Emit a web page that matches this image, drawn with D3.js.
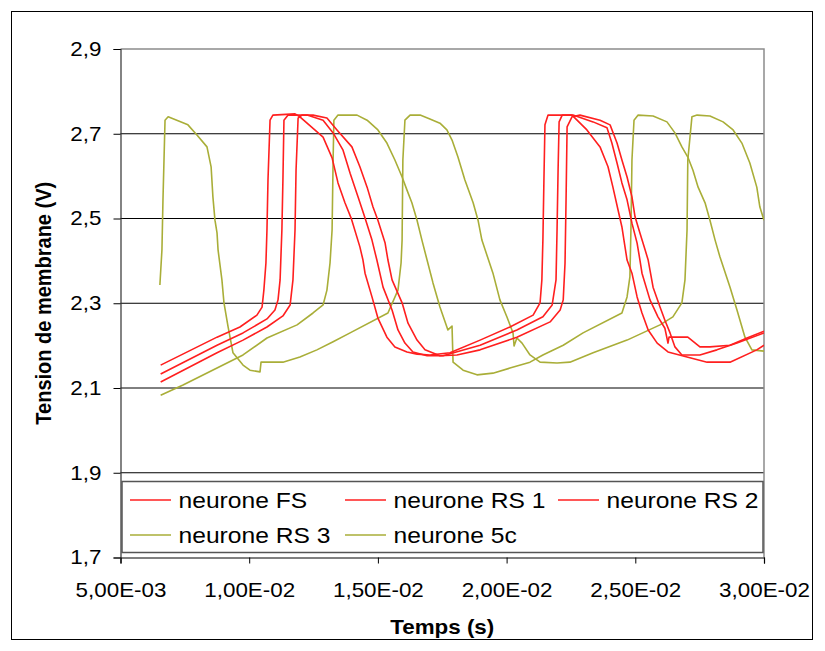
<!DOCTYPE html>
<html>
<head>
<meta charset="utf-8">
<script src="https://cdn.jsdelivr.net/npm/d3@7"></script>
<style>
  body { margin: 0; background: #fff; }
  text { font-family: Arial, "Liberation Sans", sans-serif; fill: #000; }
</style>
</head>
<body>
<svg id="chart" width="825" height="651"></svg>
<script>
// temps en ms, tension en V
const neuroneFS = [[6.56,2.154],[8.75,2.220],[9.64,2.244],[10.30,2.272],[10.50,2.291],[10.57,2.331],[10.65,2.395],[10.69,2.473],[10.73,2.591],[10.81,2.732],[10.92,2.744],[11.78,2.747],[11.97,2.740],[12.87,2.692],[13.22,2.643],[13.45,2.584],[13.72,2.537],[13.96,2.501],[14.30,2.433],[14.42,2.402],[14.50,2.371],[14.77,2.315],[15.00,2.265],[15.35,2.220],[15.66,2.197],[16.13,2.185],[16.52,2.180],[17.02,2.178],[17.80,2.183],[18.97,2.213],[20.13,2.244],[21.03,2.272],[21.30,2.301],[21.37,2.355],[21.41,2.449],[21.45,2.591],[21.49,2.721],[21.61,2.744],[22.54,2.744],[23.12,2.709],[23.63,2.669],[23.94,2.622],[24.13,2.574],[24.33,2.520],[24.48,2.480],[24.60,2.433],[24.68,2.402],[24.87,2.371],[25.07,2.315],[25.26,2.277],[25.50,2.237],[25.85,2.206],[26.27,2.185],[27.01,2.173],[27.79,2.161],[28.68,2.161],[29.72,2.190],[30.00,2.201]];
const neuroneRS1 = [[6.56,2.133],[8.75,2.201],[9.76,2.230],[10.69,2.263],[11.00,2.284],[11.12,2.308],[11.20,2.355],[11.27,2.473],[11.31,2.591],[11.35,2.732],[11.51,2.744],[12.25,2.744],[12.87,2.732],[13.26,2.702],[13.64,2.662],[13.92,2.607],[14.23,2.551],[14.50,2.501],[14.77,2.449],[14.96,2.402],[15.20,2.338],[15.55,2.284],[15.78,2.237],[16.05,2.206],[16.36,2.185],[16.91,2.176],[17.53,2.176],[18.97,2.201],[20.40,2.237],[21.41,2.268],[21.77,2.296],[21.92,2.355],[21.96,2.473],[22.00,2.614],[22.04,2.728],[22.16,2.744],[22.58,2.744],[23.36,2.728],[23.90,2.714],[24.09,2.678],[24.29,2.631],[24.48,2.584],[24.68,2.544],[24.87,2.489],[25.07,2.442],[25.18,2.402],[25.26,2.371],[25.57,2.308],[25.88,2.268],[26.15,2.241],[26.27,2.206],[26.31,2.220],[27.04,2.220],[27.51,2.197],[27.90,2.197],[28.68,2.201],[29.34,2.218],[30.00,2.234]];
const neuroneRS2 = [[6.56,2.114],[8.75,2.183],[9.76,2.213],[10.69,2.244],[11.31,2.270],[11.59,2.296],[11.70,2.355],[11.78,2.473],[11.82,2.614],[11.90,2.737],[12.05,2.744],[12.48,2.744],[13.02,2.737],[13.41,2.709],[13.99,2.669],[14.30,2.622],[14.58,2.574],[14.81,2.527],[15.00,2.496],[15.28,2.442],[15.39,2.402],[15.55,2.355],[15.94,2.301],[16.17,2.253],[16.52,2.213],[16.83,2.190],[17.41,2.176],[18.07,2.178],[18.97,2.190],[20.40,2.220],[21.69,2.256],[22.08,2.284],[22.20,2.308],[22.27,2.395],[22.31,2.544],[22.35,2.716],[22.54,2.740],[22.85,2.744],[23.63,2.732],[24.02,2.721],[24.29,2.678],[24.48,2.638],[24.68,2.598],[24.87,2.551],[24.99,2.504],[25.18,2.466],[25.38,2.426],[25.50,2.402],[25.69,2.338],[25.96,2.291],[26.15,2.260],[26.35,2.230],[26.54,2.197],[26.81,2.178],[27.51,2.178],[28.17,2.190],[28.95,2.206],[30.00,2.230]];
const neuroneRS3 = [[6.53,2.343],[6.61,2.426],[6.65,2.544],[6.73,2.732],[6.85,2.740],[7.62,2.721],[7.97,2.697],[8.36,2.669],[8.52,2.622],[8.59,2.551],[8.67,2.496],[8.75,2.466],[8.79,2.426],[8.94,2.355],[9.02,2.301],[9.18,2.244],[9.37,2.183],[9.76,2.154],[10.03,2.142],[10.42,2.138],[10.46,2.161],[11.31,2.161],[11.97,2.173],[12.63,2.190],[13.26,2.209],[13.92,2.230],[15.39,2.277],[15.78,2.331],[15.90,2.395],[15.94,2.449],[15.97,2.638],[16.05,2.732],[16.25,2.744],[16.64,2.744],[17.02,2.735],[17.41,2.725],[17.68,2.709],[17.88,2.685],[18.11,2.645],[18.38,2.591],[18.70,2.537],[18.89,2.496],[19.04,2.449],[19.47,2.371],[19.74,2.308],[20.01,2.268],[20.25,2.230],[20.29,2.199],[20.40,2.218],[20.60,2.206],[20.91,2.178],[21.30,2.161],[21.96,2.159],[22.46,2.161],[23.36,2.183],[24.68,2.213],[25.96,2.249],[26.46,2.268],[26.81,2.301],[26.93,2.355],[27.01,2.473],[27.04,2.638],[27.20,2.740],[27.40,2.744],[27.90,2.742],[28.41,2.728],[28.80,2.709],[29.14,2.678],[29.45,2.631],[29.72,2.574],[29.84,2.527],[30.00,2.496]];
const neurone5c = [[6.56,2.083],[7.43,2.107],[8.75,2.147],[9.76,2.178],[10.69,2.218],[11.86,2.249],[12.48,2.277],[12.87,2.296],[13.02,2.331],[13.14,2.395],[13.22,2.473],[13.26,2.638],[13.29,2.732],[13.45,2.744],[14.19,2.744],[14.58,2.732],[15.00,2.709],[15.35,2.678],[15.66,2.638],[15.94,2.598],[16.13,2.567],[16.32,2.537],[16.52,2.496],[16.71,2.449],[16.91,2.402],[17.14,2.348],[17.41,2.291],[17.72,2.237],[17.88,2.246],[17.92,2.161],[18.31,2.142],[18.85,2.131],[19.47,2.135],[20.13,2.147],[20.91,2.161],[21.41,2.178],[22.20,2.201],[22.97,2.230],[24.48,2.277],[24.68,2.315],[24.79,2.362],[24.83,2.473],[24.87,2.638],[24.95,2.732],[25.11,2.744],[25.69,2.742],[26.23,2.728],[26.54,2.702],[26.81,2.669],[27.04,2.645],[27.24,2.614],[27.44,2.574],[27.71,2.537],[27.90,2.496],[28.10,2.449],[28.29,2.409],[28.68,2.338],[28.95,2.284],[29.26,2.220],[29.53,2.190],[30.00,2.187]];

const seriesNames = ['neurone FS', 'neurone RS 1', 'neurone RS 2', 'neurone RS 3', 'neurone 5c'];
const seriesData = [neuroneFS, neuroneRS1, neuroneRS2, neuroneRS3, neurone5c];

const xTicks = [5e-3, 1e-2, 1.5e-2, 2e-2, 2.5e-2, 3e-2];
const xTickLabels = ['5,00E-03', '1,00E-02', '1,50E-02', '2,00E-02', '2,50E-02', '3,00E-02'];
const yTicks = [1.7, 1.9, 2.1, 2.3, 2.5, 2.7, 2.9];
const yTickLabels = ['1,7', '1,9', '2,1', '2,3', '2,5', '2,7', '2,9'];

var red = '#ff1f1f', olive = '#a9ae38';
var colors = [red, red, red, olive, olive];
var stretch = 1.12; // le graphe d'origine est un peu etire en largeur

var svg = d3.select('#chart');
var margin = {top: 49, left: 120.5};
var w = 643.5, h = 508.5;

// cadre exterieur
svg.append('rect')
  .attr('x', 11.5).attr('y', 11.5)
  .attr('width', 801).attr('height', 628)
  .attr('fill', 'none').attr('stroke', '#000');

var xScale = d3.scaleLinear().domain([5e-3, 3e-2]).range([0, w]);
var yScale = d3.scaleLinear().domain([1.7, 2.9]).range([h, 0]);

var g = svg.append('g')
  .attr('transform', 'translate(' + margin.left + ',' + margin.top + ')');

// lignes de grille
g.selectAll('.grid')
  .data(yTicks.slice(1, -1))
  .enter().append('line')
  .attr('x1', 0).attr('x2', w)
  .attr('y1', d => yScale(d)).attr('y2', d => yScale(d))
  .attr('stroke', '#000').attr('stroke-width', 1);

// bord haut et droit
g.append('path')
  .attr('d', 'M0,0H' + w + 'V' + h)
  .attr('fill', 'none').attr('stroke', '#8c8c8c').attr('stroke-width', 1.5);

g.append('clipPath').attr('id', 'clip')
  .append('rect').attr('width', w).attr('height', h);

var line = d3.line()
  .x(d => xScale(d[0] * 1e-3))
  .y(d => yScale(d[1]));

var lines = g.append('g').attr('clip-path', 'url(#clip)');
// dessiner le vert en premier, rouge par dessus
[3, 4, 0, 1, 2].forEach(i => {
  lines.append('path')
    .datum(seriesData[i])
    .attr('d', line)
    .attr('fill', 'none')
    .attr('stroke', colors[i])
    .attr('stroke-width', 1.6)
    .attr('stroke-linejoin', 'round');
});

// axes
var xAxis = d3.axisBottom(xScale)
  .tickValues(xTicks)
  .tickFormat((d, i) => xTickLabels[i])
  .tickSize(6).tickPadding(19);
var yAxis = d3.axisLeft(yScale)
  .tickValues(yTicks)
  .tickFormat((d, i) => yTickLabels[i])
  .tickSize(7).tickPadding(10);

var gx = g.append('g').attr('transform', 'translate(0,' + h + ')').call(xAxis);
var gy = g.append('g').call(yAxis);

[gx, gy].forEach(a => {
  a.select('.domain').attr('stroke', '#000').attr('stroke-width', 1.2);
  a.selectAll('.tick line').attr('stroke', '#000');
  a.selectAll('.tick text')
    .style('font-size', '20px')
    .attr('fill', '#000')
    .attr('transform', 'scale(' + stretch + ',1)');
});
gy.select('.domain').attr('stroke', '#333');

// titres des axes
svg.append('text')
  .attr('transform', 'translate(' + (margin.left + w / 2) + ',634) scale(' + stretch + ',1)')
  .attr('text-anchor', 'middle')
  .style('font-size', '20px').style('font-weight', 'bold')
  .text('Temps (s)');

svg.append('text')
  .attr('transform', 'translate(51,' + (margin.top + h / 2) + ') scale(' + stretch + ',1) rotate(-90)')
  .attr('text-anchor', 'middle')
  .style('font-size', '20px').style('font-weight', 'bold')
  .text('Tension de membrane (V)');

// legende
var legend = svg.append('g');
legend.append('rect')
  .attr('x', 122).attr('y', 481.5)
  .attr('width', 641).attr('height', 71)
  .attr('fill', '#fff').attr('stroke', '#555').attr('stroke-width', 1.5);

var legX = [130, 345, 558];
var legY = [500, 535];
seriesNames.forEach((name, i) => {
  var col = i % 3, row = Math.floor(i / 3);
  var x0 = legX[col], y0 = legY[row];
  legend.append('line')
    .attr('x1', x0).attr('x2', x0 + 41)
    .attr('y1', y0).attr('y2', y0)
    .attr('stroke', colors[i]).attr('stroke-width', 1.5);
  legend.append('text')
    .attr('transform', 'translate(' + (x0 + 48.5) + ',' + (y0 + 8) + ') scale(' + stretch + ',1)')
    .style('font-size', '22px')
    .text(name);
});
</script>
</body>
</html>
